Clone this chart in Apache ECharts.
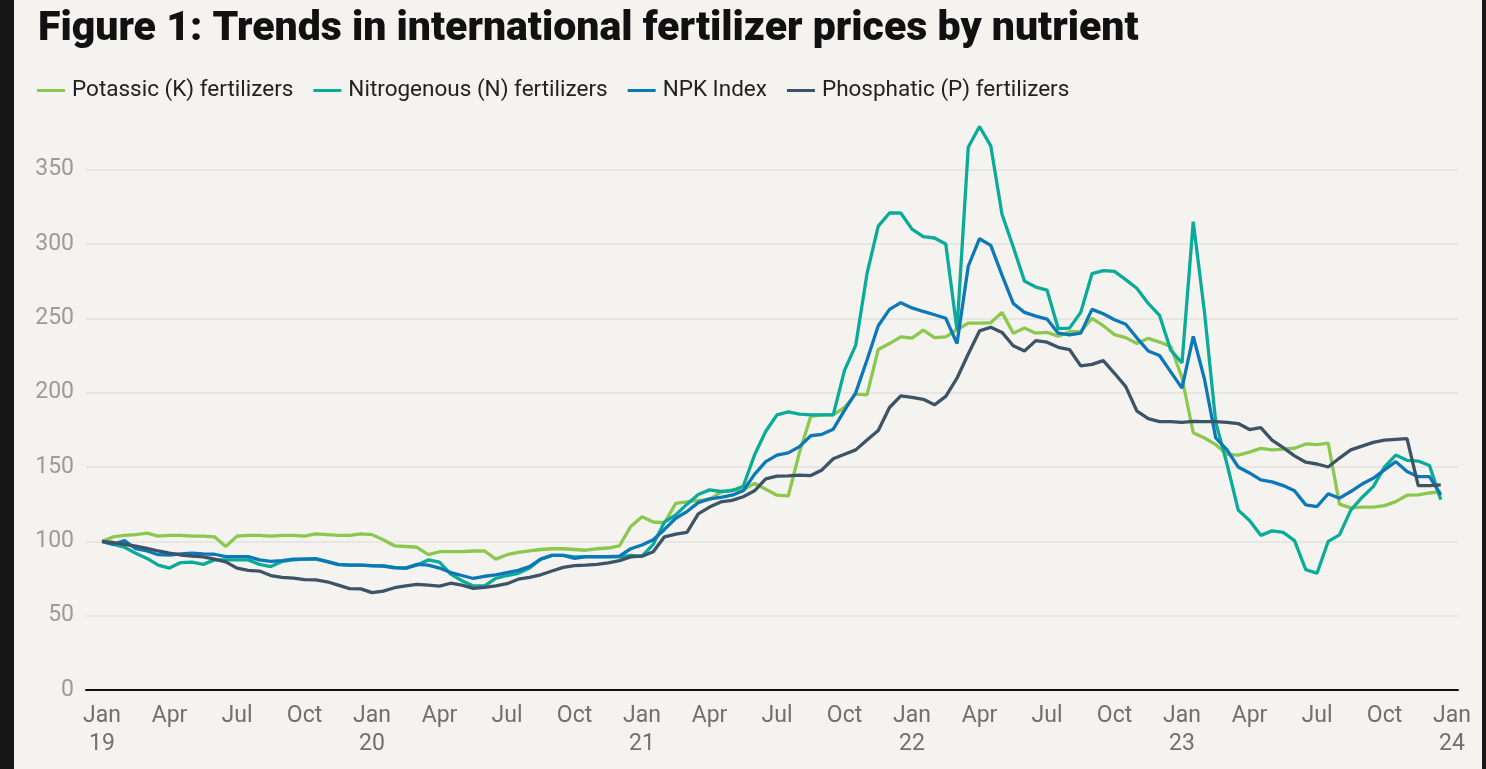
<!DOCTYPE html>
<html>
<head>
<meta charset="utf-8">
<script src="https://cdn.jsdelivr.net/npm/echarts@6/dist/echarts.min.js"></script>
<style>
  html, body { margin: 0; padding: 0; width: 1486px; height: 769px; background: #161616; overflow: hidden; }
  #panel { position: absolute; left: 14px; top: 0; width: 1468px; height: 769px; background: #f4f3ef; }
  #chart { width: 1468px; height: 769px; }
</style>
</head>
<body>
<div id="panel"><div id="chart"></div></div>
<script>
// Half-monthly observation dates (1st and 16th of each month), Jan 2019 - mid Dec 2023
const years = [2019, 2020, 2021, 2022, 2023];
const dayOfMonth = [1, 16];
const dates = [];
years.forEach(y => { for (let m = 1; m <= 12; m++) dayOfMonth.forEach(d => dates.push(y + '-' + String(m).padStart(2, '0') + '-' + String(d).padStart(2, '0'))); });

const seriesNames = ['Potassic (K) fertilizers', 'Nitrogenous (N) fertilizers', 'NPK Index', 'Phosphatic (P) fertilizers'];

const potassic = [
  100, 103, 104, 104.5, 105.5, 103.5, 104, 104, 103.5, 103.5, 103, 96.5,
  103.5, 104, 104, 103.5, 104, 104, 103.5, 105, 104.5, 104, 104, 105,
  104.5, 101, 97, 96.5, 96, 91, 93, 93, 93, 93.5, 93.5, 88,
  91, 92.5, 93.5, 94.5, 95, 95, 94.5, 94, 95, 95.5, 97, 110,
  116.5, 113, 112.5, 125.5, 126.5, 127.5, 128, 133, 134.6, 134.5, 139, 135,
  131, 130.5, 160, 184, 185, 185, 190, 199, 198.5, 229, 233, 237.5,
  236.7, 242, 237, 237.5, 242.3, 246.8, 246.8, 247, 254, 240, 243.5, 240,
  240.5, 238, 241, 241, 250, 245, 239, 237, 233, 236.5, 234, 231,
  210, 173, 169.5, 165, 158.5, 158, 160, 162.5, 161.5, 162, 162.6, 165.5,
  165, 166, 125, 122.5, 123, 123, 124, 126.7, 131, 131.2, 132.5, 133.5
];
const nitrogenous = [
  100, 98, 96, 92, 88.5, 84, 82, 85.7, 86, 84.5, 87.5, 87.5,
  87.5, 87.5, 84.5, 83, 86.5, 87.5, 88, 88, 86.5, 84.5, 84, 84,
  83.5, 83.5, 82.5, 82, 84, 87.5, 86, 78, 73.5, 70, 70, 75,
  77, 78.5, 82, 88, 90.5, 90.5, 89.5, 89.7, 89.5, 89.5, 89.5, 90.5,
  90, 98, 113, 117.8, 125, 131.5, 134.6, 133.5, 134, 137, 158, 174,
  185, 187, 185.5, 185, 185, 185, 215, 232, 280, 312, 320.8, 320.8,
  310, 305, 304, 300, 242.3, 365, 379, 366, 320, 298, 275, 271,
  269, 243, 243.4, 254, 280, 282, 281.5, 276, 270, 260, 252, 228.5,
  220, 315, 254, 180, 152, 121, 114, 104, 107, 106, 100.5, 81,
  78.5, 100, 104.3, 121, 129.5, 136.8, 150, 158, 154.5, 154, 151, 128
];
const npkIndex = [
  100, 98, 100.5, 95, 93.5, 91, 90.8, 91.5, 92, 91.5, 91.3, 89.7,
  89.7, 89.7, 87.5, 86.5, 87, 88, 88, 88.3, 86.4, 84.3, 84, 84,
  83.6, 83.4, 82.2, 82, 84.5, 84, 82, 79, 77, 75, 76.5, 77.5,
  79, 80.5, 83, 88, 90.5, 90.5, 88.5, 89.7, 89.7, 89.7, 90, 95,
  97.5, 101, 108, 115.5, 120, 126, 128.5, 129.5, 131, 134, 145, 153.6,
  158, 159.5, 163.7, 171, 172, 175.4, 188, 200, 222, 245, 256, 260.5,
  257, 254.6, 252.4, 250, 233, 285, 303.5, 299, 279, 260, 254, 251.5,
  249.5, 240, 238.9, 240, 256, 253, 249, 246, 236.7, 228, 225, 214,
  203, 237.8, 209, 169.5, 161.5, 150, 146, 141.3, 140, 137.5, 134, 124.5,
  123.4, 132, 129, 133.5, 138.5, 142.4, 148, 153.6, 147, 143.5, 143.5, 131.2
];
const phosphatic = [
  100, 99.2, 98, 96.8, 95.3, 93.5, 92, 90.8, 90, 89.5, 88, 86.2,
  82, 80.5, 80, 77, 75.7, 75.3, 74.2, 74, 72.8, 70.5, 68.2, 68,
  65.5, 66.5, 68.8, 70, 71, 70.5, 69.8, 71.8, 70.5, 68.4, 69, 70,
  71.5, 74.5, 75.8, 77.5, 80, 82.5, 83.6, 84, 84.5, 85.5, 87, 89.5,
  90, 93, 103, 104.8, 106, 118.5, 123, 126.5, 127.5, 130, 134, 142,
  143.8, 144, 144.5, 144.2, 148, 155.5, 158.5, 161.5, 168.2, 174.5, 190, 197.8,
  196.8, 195.5, 191.8, 197.5, 209.7, 226, 241.5, 244, 240.5, 231.5, 228, 235,
  233.9, 230.5, 229, 218, 219, 221.5, 213, 204, 187.5, 182.5, 180.5, 180.5,
  180, 180.7, 180.5, 180.5, 180, 179.2, 175.2, 176.5, 168, 163, 157.5, 153.2,
  152, 150, 156, 161.5, 164, 166.5, 168, 168.5, 169, 137.5, 137.5, 138
];

const yTicks = [0, 50, 100, 150, 200, 250, 300, 350];
const quarterTicks = [0, 3, 6, 9, 12, 15, 18, 21, 24, 27, 30, 33, 36, 39, 42, 45, 48, 51, 54, 57, 60];
const monthNames = ['Jan', 'Feb', 'Mar', 'Apr', 'May', 'Jun', 'Jul', 'Aug', 'Sep', 'Oct', 'Nov', 'Dec'];

// months since Jan 2019
function toMonths(s) {
  const p = s.split('-').map(Number);
  return (p[0] - 2019) * 12 + (p[1] - 1) + (p[2] - 1) / 30;
}
const xs = dates.map(toMonths);

const colors = ['#8cc850', '#0aab98', '#0c78b8', '#3d5366'];
const values = [potassic, nitrogenous, npkIndex, phosphatic];

const chart = echarts.init(document.getElementById('chart'), null, { renderer: 'canvas' });
chart.setOption({
  animation: false,
  backgroundColor: 'transparent',
  title: {
    text: 'Figure 1: Trends in international fertilizer prices by nutrient',
    left: 22, top: 4, padding: [5, 5, 5, 2],
    textStyle: { fontFamily: 'Roboto', fontWeight: 900, fontSize: 41, color: '#111' }
  },
  legend: {
    left: 23, top: 79, padding: 0,
    icon: 'rect', itemWidth: 28, itemHeight: 3, itemGap: 20,
    textStyle: { fontFamily: 'Roboto', fontSize: 22.5, color: '#222', padding: [0, 0, 0, 2] },
    data: seriesNames
  },
  grid: { left: 72, right: 24, top: 125, bottom: 79, containLabel: false },
  xAxis: {
    type: 'value',
    min: -16 / 22.5,
    max: 1356 / 22.5,
    axisLine: { show: true, lineStyle: { color: '#111', width: 2 } },
    axisTick: { show: false },
    splitLine: { show: false },
    axisLabel: {
      customValues: quarterTicks,
      margin: 12,
      fontFamily: 'Roboto', fontSize: 23, color: '#707070', lineHeight: 28,
      formatter: function (v) {
        const idx = Math.round(v);
        const mon = ((idx % 12) + 12) % 12;
        if (mon === 0) return 'Jan\n' + (19 + idx / 12);
        return monthNames[mon];
      }
    }
  },
  yAxis: {
    type: 'value',
    min: 0, max: 380, interval: 50,
    axisLine: { show: false },
    axisTick: { show: false },
    axisLabel: {
      customValues: yTicks,
      margin: 12,
      fontFamily: 'Roboto', fontSize: 23, color: '#9b9b9b'
    },
    splitLine: { show: true, showMaxLine: false, lineStyle: { color: '#e3e2de', width: 1.5 } }
  },
  series: seriesNames.map((name, i) => ({
    name: name,
    type: 'line',
    showSymbol: false,
    symbol: 'none',
    color: colors[i],
    lineStyle: { width: 3.3, color: colors[i] },
    data: xs.map((x, j) => [x, values[i][j]]).filter(p => p[1] != null)
  }))
});
</script>
</body>
</html>
